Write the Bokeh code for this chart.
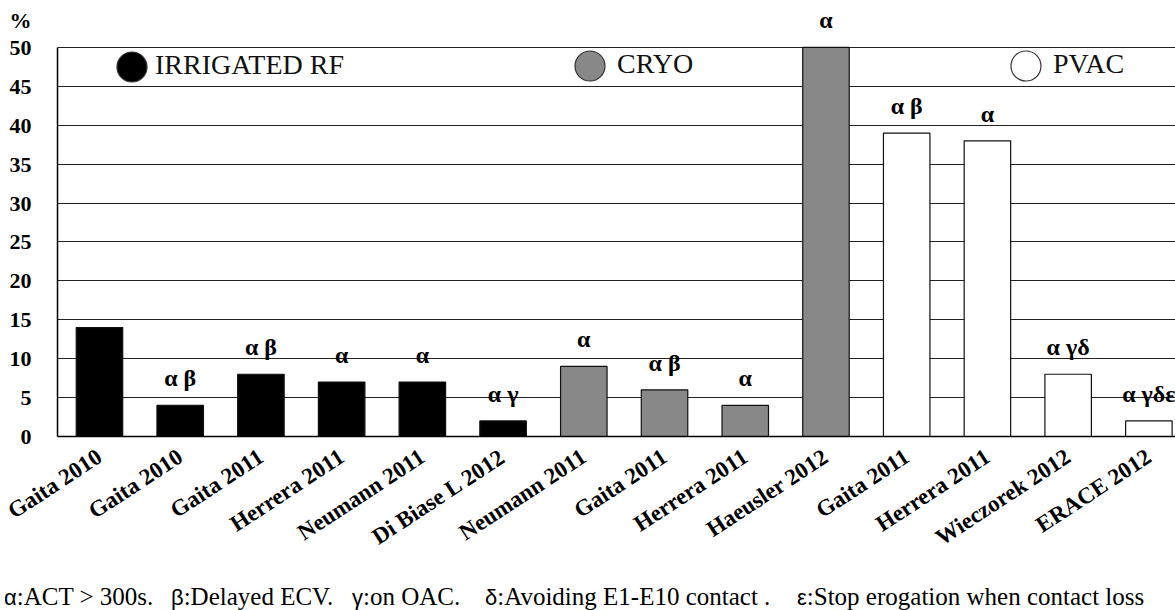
from bokeh.plotting import figure
from bokeh.layouts import column
from bokeh.models import (Range1d, FixedTicker, ColumnDataSource, LabelSet,
                          Legend, LegendItem, LinearAxis, Div)
from bokeh.embed import file_html
from bokeh.resources import INLINE

# ---------------- data ----------------
studies = ["Gaita 2010", "Gaita 2010", "Gaita 2011", "Herrera 2011", "Neumann 2011",
           "Di Biase L 2012", "Neumann 2011", "Gaita 2011", "Herrera 2011",
           "Haeusler 2012", "Gaita 2011", "Herrera 2011", "Wieczorek 2012", "ERACE 2012"]
groups = ["IRRIGATED RF"] * 6 + ["CRYO"] * 4 + ["PVAC"] * 4
values = [14, 4, 8, 7, 7, 2, 9, 6, 4, 50, 39, 38, 8, 2]
notes = ["", "α β", "α β", "α", "α", "α γ", "α", "α β", "α", "α", "α β", "α", "α γδ", "α γδε"]
group_names = ["IRRIGATED RF", "CRYO", "PVAC"]
group_colors = ["#000000", "#888888", "#ffffff"]
y_ticks = [0, 5, 10, 15, 20, 25, 30, 35, 40, 45, 50]
unit_label = "%"
footnote_symbols = ["α", "β", "γ", "δ", "ε"]
footnote_texts = [":ACT > 300s.", ":Delayed ECV.", ":on OAC.",
                  ":Avoiding E1-E10 contact .", ":Stop erogation when contact loss"]

SERIF = "Liberation Serif"
idx = list(range(len(studies)))
UNIT_TICK = 53.5

p = figure(width=1175, height=574, x_range=Range1d(-0.52, 13.33), y_range=Range1d(0, 53.98),
           output_backend="svg", toolbar_location=None, y_axis_location=None,
           min_border_left=57, min_border_right=0, min_border_top=16, min_border_bottom=138)
p.outline_line_color = None
p.background_fill_color = "white"
p.border_fill_color = "white"

# bars by group
legend_renderers = {}
for g, c in zip(group_names, group_colors):
    sel = [i for i in idx if groups[i] == g]
    src = ColumnDataSource(dict(x=sel, top=[values[i] for i in sel]))
    p.vbar(x="x", top="top", bottom=0, width=0.576, source=src,
           fill_color=c, line_color="#111111", line_width=1.2)
    legend_renderers[g] = p.scatter(x=[float("nan")], y=[float("nan")], marker="circle",
                                    size=30, fill_color=c, line_color="#333333", line_width=1.2)
ghost = p.scatter(x=[float("nan")], y=[float("nan")], marker="circle", size=1,
                  fill_alpha=0, line_alpha=0)

# bar annotations
lab_src = ColumnDataSource(dict(x=idx, y=values, text=notes))
p.add_layout(LabelSet(x="x", y="y", text="text", source=lab_src, y_offset=19,
                      text_align="center", text_baseline="alphabetic",
                      text_font=SERIF, text_font_style="bold", text_font_size="24px",
                      text_color="black"))

# y axes: one for the line (0..50), one for labels incl. the unit sign
line_axis = LinearAxis(ticker=FixedTicker(ticks=[]), bounds=(0, 50),
                       axis_line_color="black", axis_line_width=1.5,
                       major_tick_in=0, major_tick_out=0, minor_tick_in=0, minor_tick_out=0,
                       major_label_text_font_size="0px")
label_axis = LinearAxis(ticker=FixedTicker(ticks=y_ticks + [UNIT_TICK]),
                        major_label_overrides={UNIT_TICK: unit_label},
                        axis_line_color=None, major_tick_line_color=None,
                        minor_tick_line_color=None, major_label_standoff=20,
                        major_label_text_font=SERIF, major_label_text_font_style="bold",
                        major_label_text_font_size="22px", major_label_text_color="black")
p.add_layout(line_axis, "left")
p.add_layout(label_axis, "left")

p.xaxis.ticker = FixedTicker(ticks=idx)
p.xaxis.major_label_overrides = {i: s for i, s in zip(idx, studies)}
p.xaxis.major_label_orientation = 0.58
p.xaxis.axis_line_color = "black"
p.xaxis.axis_line_width = 1.5
p.xaxis.major_tick_line_color = None
p.xaxis.minor_tick_line_color = None
p.xaxis.major_label_standoff = 12
p.xaxis.major_label_text_font = SERIF
p.xaxis.major_label_text_font_style = "bold"
p.xaxis.major_label_text_font_size = "23px"
p.xaxis.major_label_text_color = "black"

p.xgrid.grid_line_color = None
p.ygrid.ticker = FixedTicker(ticks=y_ticks)
p.ygrid.grid_line_color = "#222222"
p.ygrid.grid_line_width = 1.2

# legends: circle swatches and their texts
glyph_pos = [(37, 332), (495, 333), (931, 333)]
text_pos = [(97, 355), (559, 356), (995, 356)]
for g, gp, tp in zip(group_names, glyph_pos, text_pos):
    p.add_layout(Legend(items=[LegendItem(label=" ", renderers=[legend_renderers[g]])],
                        location=gp, glyph_width=75, glyph_height=75, label_standoff=0,
                        label_text_font_size="1px", label_height=75,
                        background_fill_alpha=0, border_line_color=None,
                        padding=0, margin=0, spacing=0))
    p.add_layout(Legend(items=[LegendItem(label=g, renderers=[ghost])],
                        location=tp, glyph_width=1, glyph_height=30, label_standoff=0,
                        label_text_font=SERIF, label_text_font_size="28px",
                        label_text_color="#111111", label_height=30,
                        background_fill_alpha=0, border_line_color=None,
                        padding=0, margin=0, spacing=0))

# footnote
SERIF_CSS = "'Liberation Serif', 'Times New Roman', serif"
SANS_CSS = "'Liberation Sans', Arial, sans-serif"
lefts = [-1, 166, 347, 480, 792]
spans = "".join(
    f'<span style="position:absolute;left:{l}px;top:0;white-space:nowrap;'
    f'font-family:{SERIF_CSS};font-size:25px">'
    f'<span style="font-family:{SANS_CSS};font-size:22px">{s}</span>{t}</span>'
    for l, s, t in zip(lefts, footnote_symbols, footnote_texts))
foot = Div(text=f'<div style="position:relative;width:1175px;height:36px;overflow:hidden;'
                f'line-height:36px;color:#000">{spans}</div>',
           width=1175, height=36,
           styles={"font-family": SERIF_CSS, "font-size": "25px", "color": "#000"})

layout = column(p, foot, spacing=0)
open("out.html", "w").write(file_html(layout, INLINE))
